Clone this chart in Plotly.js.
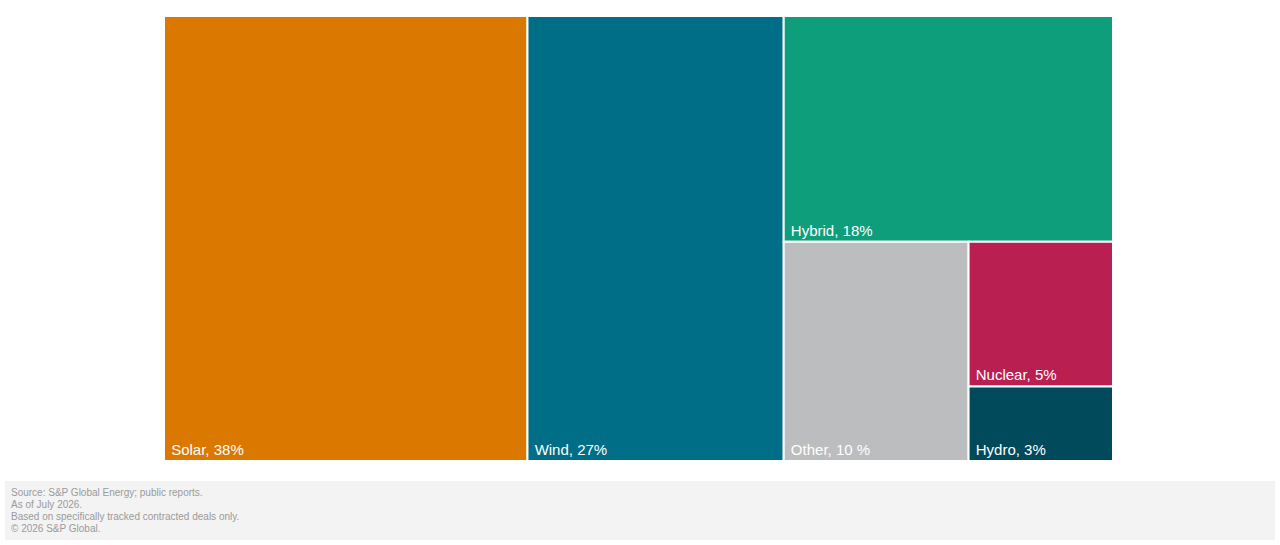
<!DOCTYPE html>
<html>
<head>
<meta charset="utf-8">
<script src="https://cdn.plot.ly/plotly-3.0.1.min.js"></script>
<style>
  html, body { margin: 0; padding: 0; background: #ffffff; }
  #chart { width: 1280px; height: 545px; }
</style>
</head>
<body>
<div id="chart"></div>
<script>
const categories = ["Solar", "Wind", "Hybrid", "Other", "Nuclear", "Hydro"];
// shares estimated from the tile areas in the picture
const shares = [38.3, 27.0, 17.6, 9.6, 4.95, 2.55];
const tileLabels = ["Solar, 38%", "Wind, 27%", "Hybrid, 18%", "Other, 10 %", "Nuclear, 5%", "Hydro, 3%"];
const tileColors = ["#DB7800", "#006E87", "#0F9E7B", "#BCBDBF", "#B91F51", "#004A5B"];
const footerLines = [
  "Source: S&P Global Energy; public reports.",
  "As of July 2026.",
  "Based on specifically tracked contracted deals only.",
  "© 2026 S&P Global."
];

const W = 1280, H = 545;

const trace = {
  type: "treemap",
  labels: categories,
  parents: categories.map(() => ""),
  values: shares,
  text: tileLabels.map(t => "\u00a0" + t),
  textinfo: "text",
  textposition: "bottom left",
  hoverinfo: "text",
  sort: false,
  tiling: { packing: "squarify", squarifyratio: 1, pad: 0 },
  marker: {
    colors: tileColors,
    line: { color: "#ffffff", width: 2 },
    pad: { t: 0, l: 0, r: 0, b: 0 }
  },
  pathbar: { visible: false },
  textfont: { family: "Liberation Sans, Arial, sans-serif", size: 15, color: "#ffffff" },
  insidetextfont: { family: "Liberation Sans, Arial, sans-serif", size: 15, color: "#ffffff" },
  domain: { x: [164 / W, 1113 / W], y: [(H - 461) / H, (H - 16) / H] }
};

const footerY0 = 481, footerY1 = 540;
const annotations = footerLines.map((line, i) => ({
  xref: "paper", yref: "paper",
  x: 9 / W, y: (H - (484.5 + i * 12.3)) / H,
  xanchor: "left", yanchor: "top",
  text: line, showarrow: false,
  font: { family: "Liberation Sans, Arial, sans-serif", size: 10, color: "#9a9a9a" }
}));

const layout = {
  width: W, height: H,
  margin: { l: 0, r: 0, t: 0, b: 0 },
  paper_bgcolor: "#ffffff",
  showlegend: false,
  shapes: [{
    type: "rect", xref: "paper", yref: "paper",
    x0: 5 / W, x1: 1275 / W, y0: (H - footerY1) / H, y1: (H - footerY0) / H,
    fillcolor: "#f3f3f3", line: { width: 0 }, layer: "below"
  }],
  annotations: annotations
};

Plotly.newPlot("chart", [trace], layout, { displayModeBar: false, staticPlot: true });
</script>
</body>
</html>
